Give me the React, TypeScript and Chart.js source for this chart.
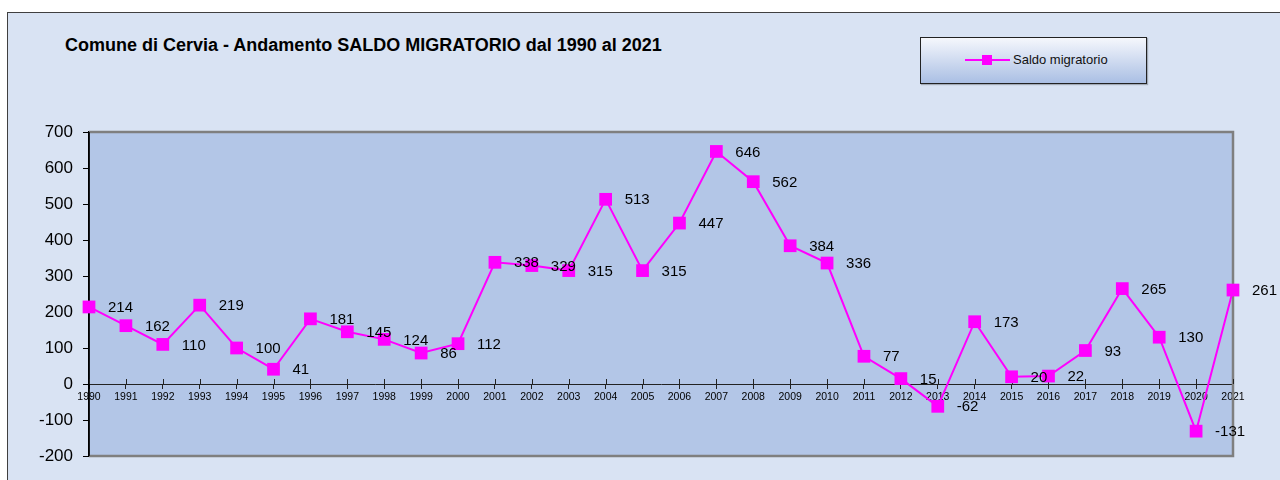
import React, { useEffect, useRef } from "react";
import { Chart, registerables } from "chart.js";

Chart.register(...registerables);

const years = [
  "1990", "1991", "1992", "1993", "1994", "1995", "1996", "1997", "1998", "1999",
  "2000", "2001", "2002", "2003", "2004", "2005", "2006", "2007", "2008", "2009",
  "2010", "2011", "2012", "2013", "2014", "2015", "2016", "2017", "2018", "2019",
  "2020", "2021",
];
const saldoMigratorio = [
  214, 162, 110, 219, 100, 41, 181, 145, 124, 86,
  112, 338, 329, 315, 513, 315, 447, 646, 562, 384,
  336, 77, 15, -62, 173, 20, 22, 93, 265, 130,
  -131, 261,
];
const yMin = -200;
const yMax = 700;
const yStep = 100;

const titleText = "Comune di Cervia - Andamento SALDO MIGRATORIO dal 1990 al 2021";
const seriesName = "Saldo migratorio";

const FONT = "'Liberation Sans', Arial, sans-serif";
const MAGENTA = "#FF00FF";

const plotPlugin = {
  id: "plotDecor",
  beforeDraw(chart: any) {
    const { ctx, chartArea } = chart;
    ctx.save();
    ctx.fillStyle = "#B3C6E7";
    ctx.fillRect(chartArea.left, chartArea.top, chartArea.right - chartArea.left, chartArea.bottom - chartArea.top);
    ctx.restore();
  },
  beforeDatasetsDraw(chart: any) {
    const { ctx, chartArea, scales } = chart;
    ctx.save();
    ctx.strokeStyle = "#7F7F7F";
    ctx.lineWidth = 2.5;
    ctx.beginPath();
    ctx.moveTo(chartArea.left, chartArea.top);
    ctx.lineTo(chartArea.right, chartArea.top);
    ctx.lineTo(chartArea.right, chartArea.bottom);
    ctx.lineTo(chartArea.left, chartArea.bottom);
    ctx.stroke();
    ctx.strokeStyle = "#000";
    ctx.lineWidth = 1.5;
    ctx.beginPath();
    ctx.moveTo(chartArea.left, chartArea.top);
    ctx.lineTo(chartArea.left, chartArea.bottom);
    ctx.stroke();
    const xs = scales.x;
    const y0 = scales.y.getPixelForValue(0);
    ctx.strokeStyle = "#222";
    ctx.lineWidth = 1;
    ctx.beginPath();
    xs.ticks.forEach((_t: any, i: number) => {
      const x = Math.round(xs.getPixelForTick(i)) + 0.5;
      ctx.moveTo(x, y0 - 5);
      ctx.lineTo(x, y0);
    });
    ctx.stroke();
    ctx.restore();
  },
  afterDatasetsDraw(chart: any) {
    const { ctx } = chart;
    const meta = chart.getDatasetMeta(0);
    ctx.save();
    ctx.font = `15px ${FONT}`;
    ctx.fillStyle = "#000";
    ctx.textAlign = "left";
    ctx.textBaseline = "middle";
    meta.data.forEach((pt: any, i: number) => {
      ctx.fillText(String(saldoMigratorio[i]), pt.x + 19, pt.y + 1);
    });
    ctx.restore();
  },
};

export default function App() {
  const canvasRef = useRef<HTMLCanvasElement | null>(null);

  useEffect(() => {
    if (!canvasRef.current) return;
    const chart = new Chart(canvasRef.current, {
      type: "line",
      data: {
        labels: years,
        datasets: [
          {
            label: seriesName,
            data: saldoMigratorio,
            borderColor: MAGENTA,
            backgroundColor: MAGENTA,
            borderWidth: 2,
            pointStyle: "rect",
            pointRadius: 9,
            pointHoverRadius: 9,
            pointBorderWidth: 0,
            tension: 0,
            clip: false as any,
          },
        ],
      },
      options: {
        responsive: false,
        animation: false,
        events: [],
        layout: { padding: { left: 0, top: 132, right: 47, bottom: 24 } },
        plugins: {
          legend: { display: false },
          title: { display: false },
          tooltip: { enabled: false },
        },
        scales: {
          x: {
            type: "category",
            position: { y: 0 } as any,
            offset: false,
            grid: {
              display: true,
              drawOnChartArea: false,
              tickLength: 4,
              color: "#222",
            },
            border: { display: true, color: "#222", width: 1 },
            ticks: {
              autoSkip: false,
              maxRotation: 0,
              minRotation: 0,
              padding: 3,
              color: "#000",
              font: { family: FONT, size: 10.5 },
            },
          },
          y: {
            min: yMin,
            max: yMax,
            afterFit: (scale: any) => {
              scale.width = 89;
            },
            grid: {
              display: true,
              drawOnChartArea: false,
              tickLength: 6,
              color: "#000",
            },
            border: { display: true, color: "#000", width: 1.5 },
            ticks: {
              stepSize: yStep,
              padding: 10,
              color: "#000",
              font: { family: FONT, size: 17 },
            },
          },
        },
      },
      plugins: [plotPlugin],
    });
    return () => chart.destroy();
  }, []);

  return (
    <div
      style={{
        position: "fixed",
        left: 0,
        top: 0,
        width: 1280,
        height: 480,
        background: "#FFFFFF",
        overflow: "hidden",
        fontFamily: FONT,
      }}
    >
      <div
        style={{
          position: "absolute",
          left: 7,
          top: 12,
          right: 0,
          bottom: 0,
          borderLeft: "1px solid #404040",
          borderTop: "1px solid #404040",
          background: "#D9E3F3",
        }}
      />
      <div
        style={{
          position: "absolute",
          left: 65,
          top: 34,
          fontWeight: "bold",
          fontSize: 18,
          lineHeight: "22px",
          color: "#000",
          whiteSpace: "nowrap",
        }}
      >
        {titleText}
      </div>
      <div
        style={{
          position: "absolute",
          left: 920,
          top: 37,
          width: 227,
          height: 47,
          boxSizing: "border-box",
          border: "1px solid #222",
          background: "linear-gradient(#F5F7FC, #AABFE4)",
          boxShadow: "1px 1px 1px rgba(0,0,0,0.25)",
        }}
      >
        <div style={{ position: "absolute", left: 44, top: 21, width: 45, height: 2, background: MAGENTA }} />
        <div style={{ position: "absolute", left: 61, top: 17, width: 10, height: 10, background: MAGENTA }} />
        <div
          style={{
            position: "absolute",
            left: 92,
            top: 14,
            fontSize: 13,
            lineHeight: "16px",
            color: "#111",
            whiteSpace: "nowrap",
          }}
        >
          {seriesName}
        </div>
      </div>
      <canvas
        ref={canvasRef}
        width={1280}
        height={480}
        style={{ position: "absolute", left: 0, top: 0, width: 1280, height: 480 }}
      />
    </div>
  );
}
